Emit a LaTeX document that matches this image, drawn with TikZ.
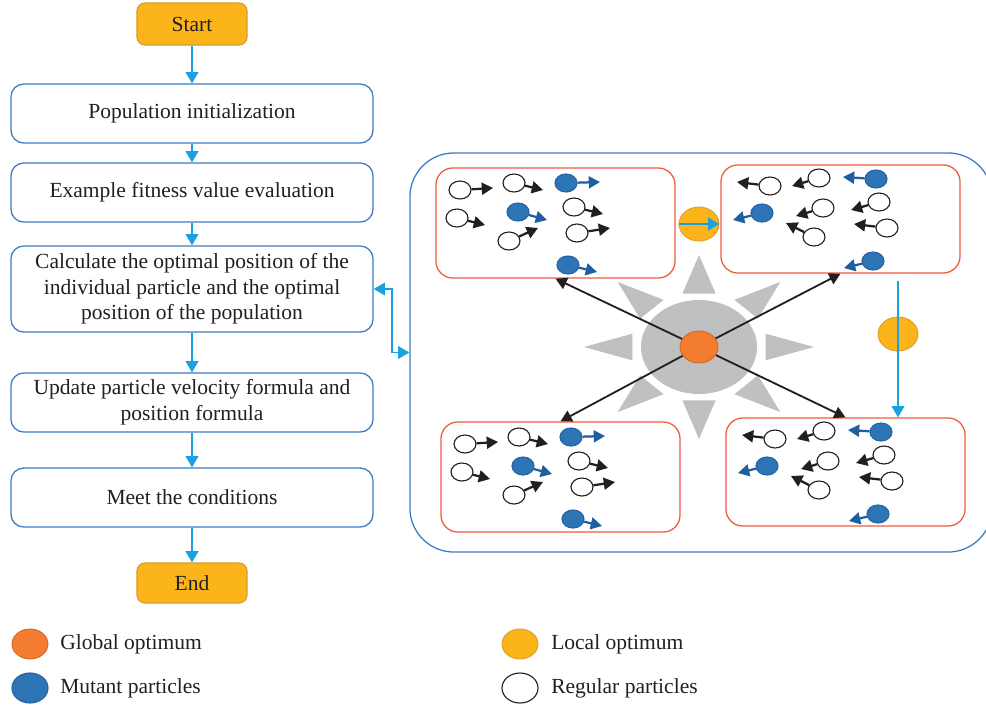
\documentclass[tikz,border=0pt]{standalone}
\usepackage{fontspec}
\setmainfont{Liberation Serif}
\usetikzlibrary{arrows.meta,shapes.geometric,positioning}

\definecolor{boxblue}{HTML}{3A7CC3}
\definecolor{flowcyan}{HTML}{1BA1E2}
\definecolor{termfill}{HTML}{FBB41A}
\definecolor{termedge}{HTML}{DB9A2A}
\definecolor{groupred}{HTML}{F05A3C}
\definecolor{raygray}{HTML}{BFC0C0}
\definecolor{gbestfill}{HTML}{F47C30}
\definecolor{gbestedge}{HTML}{D2661E}
\definecolor{inkgray}{HTML}{231F20}
% particle colours, picked by kind
\definecolor{fillregular}{HTML}{FFFFFF}
\definecolor{edgeregular}{HTML}{231F20}
\definecolor{arrowregular}{HTML}{231F20}
\definecolor{fillmutant}{HTML}{2E75B6}
\definecolor{edgemutant}{HTML}{2663A3}
\definecolor{arrowmutant}{HTML}{1F5FA0}

\tikzset{
  stepbox/.style={draw=boxblue, line width=0.9pt, rounded corners=0.32cm, fill=white,
    minimum width=9.05cm, minimum height=1.475cm, align=center, text=inkgray},
  termbox/.style={draw=termedge, fill=termfill, line width=0.8pt, rounded corners=0.2cm,
    minimum width=2.75cm, minimum height=1.05cm, text=inkgray},
  flow/.style={draw=flowcyan, line width=1.3pt, -{Triangle[width=9pt,length=8pt]}},
  groupbox/.style={draw=groupred, line width=0.9pt, rounded corners=0.42cm,
    minimum width=5.975cm, minimum height=2.75cm, inner sep=0pt},
  particle/.style={ellipse, line width=0.8pt, minimum width=0.55cm, minimum height=0.45cm, inner sep=0pt},
  move/.style={line width=1.6pt, -{Triangle[width=8.5pt,length=8pt]}},
  pull/.style={draw=inkgray, line width=1.3pt, -{Triangle[width=8.5pt,length=8pt]}},
  globalopt/.style={ellipse, fill=gbestfill, draw=gbestedge, line width=0.6pt,
    minimum width=0.95cm, minimum height=0.8cm, inner sep=0pt},
  localopt/.style={ellipse, fill=termfill, draw=termedge, line width=0.6pt,
    minimum width=1.0cm, minimum height=0.85cm, inner sep=0pt},
  legendtext/.style={anchor=west, text=inkgray, inner sep=0pt}
}

% one swarm of particles, #1 = name prefix, #2 = list x/y/tipx/tipy/kind
\newcommand{\flock}[2]{%
  \foreach \xa/\ya/\xb/\yb/\k [count=\i] in #2{
    \node[particle, fill=fill\k, draw=edge\k] (#1\i) at (\xa,\ya) {};
    \coordinate (#1t\i) at (\xb,\yb);
    \draw[move, draw=arrow\k] (#1\i) -- (#1t\i);
  }}
\newcommand{\leftlist}{460/190/493/188/regular, 514/183/543/190/regular,
  566/183/600/182/mutant, 457/218/485/225/regular, 518/212/547/220/mutant,
  574/207/603/214/regular, 509/241/538/228/regular, 577/233/610/228/regular,
  568/265/597/272/mutant}
\newcommand{\rightlist}{770/186/737/182/regular, 819/178/792/186/regular,
  876/179/843/177/mutant, 762/213/733/220/mutant, 823/208/796/216/regular,
  879/202/851/210/regular, 814/237/786/223/regular, 887/228/854/224/regular,
  873/261/844/268/mutant}

\begin{document}
\begin{tikzpicture}[x=0.025cm, y=-0.025cm, font=\fontsize{15.3}{18.2}\selectfont]
  \useasboundingbox (0,0) rectangle (986,706);

  % Flowchart
  \node[termbox] (start) at (192,24) {Start};
  \node[stepbox] (init) at (192,113.5) {Population initialization};
  \node[stepbox] (fit) at (192,192.5) {Example fitness value evaluation};
  \node[stepbox, minimum height=2.15cm] (best) at (192,289)
    {Calculate the optimal position of the\\individual particle and the optimal\\position of the population};
  \node[stepbox] (update) at (192,402.5) {Update particle velocity formula and\\position formula};
  \node[stepbox] (meet) at (192,497.5) {Meet the conditions};
  \node[termbox, minimum height=1.0cm] (end) at (192,583) {End};

  \draw[flow] (start) -- (init);
  \draw[flow] (init) -- (fit);
  \draw[flow] (fit) -- (best);
  \draw[flow] (best) -- (update);
  \draw[flow] (update) -- (meet);
  \draw[flow] (meet) -- (end);

  % Swarm panel
  \node[draw=boxblue, line width=0.9pt, rounded corners=1.1cm, minimum width=14.55cm,
    minimum height=9.975cm, inner sep=0pt] (swarm) at (701,352.5) {};
  \draw[flow, {Triangle[width=9pt,length=8pt]}-{Triangle[width=9pt,length=8pt]}]
    (best.east) -- ++(0.45cm,0) |- (swarm.west);

  % Sub-swarms
  \node[groupbox] (groupA) at (555.5,223) {};
  \node[groupbox, minimum height=2.7cm] (groupB) at (840.5,219) {};
  \node[groupbox] (groupC) at (560.5,477) {};
  \node[groupbox, minimum height=2.7cm] (groupD) at (845.5,472) {};

  \flock{a}{\leftlist}
  \flock{b}{\rightlist}
  \begin{scope}[shift={(5,254)}]
    \flock{c}{\leftlist}
  \end{scope}
  \begin{scope}[shift={(5,253)}]
    \flock{d}{\rightlist}
  \end{scope}

  % Sun around the global optimum
  \begin{scope}[shift={(699,347)}, xscale=1.25]
    \foreach \a in {0,45,...,315}
      \fill[raygray] (\a:92) -- ({\a+14}:55) -- ({\a-14}:55) -- cycle;
  \end{scope}
  \node[ellipse, fill=raygray, minimum width=2.9cm, minimum height=2.35cm, inner sep=0pt] (core) at (699,347) {};
  \node[globalopt] (gbest) at (699,347) {};

  \draw[pull] (gbest) -- (groupA.south);
  \draw[pull] (gbest) -- (groupB.south);
  \draw[pull] (gbest) -- (groupC.north);
  \draw[pull] (gbest) -- (groupD.north);

  % Local optima
  \node[localopt] (lbestA) at (699,224) {};
  \draw[flow] (lbestA.west) -- (lbestA.east);
  \node[localopt] (lbestB) at (898,334) {};
  \draw[flow, shorten <=0.18cm] (groupB.south -| lbestB) -- (groupD.north -| lbestB);

  % Legend
  \node[globalopt, minimum width=0.9cm, minimum height=0.75cm] (keyglobal) at (30,644) {};
  \node[legendtext] (keyglobaltext) at (60,644) {Global optimum};
  \node[particle, fill=fillmutant, draw=edgemutant, minimum width=0.9cm, minimum height=0.75cm] (keymutant) at (30,688) {};
  \node[legendtext] (keymutanttext) at (60,688) {Mutant particles};
  \node[localopt, minimum width=0.9cm, minimum height=0.75cm] (keylocal) at (520,644) {};
  \node[legendtext] (keylocaltext) at (551,644) {Local optimum};
  \node[particle, fill=white, draw=inkgray, minimum width=0.9cm, minimum height=0.75cm] (keyregular) at (520,688) {};
  \node[legendtext] (keyregulartext) at (551,688) {Regular particles};
\end{tikzpicture}
\end{document}
